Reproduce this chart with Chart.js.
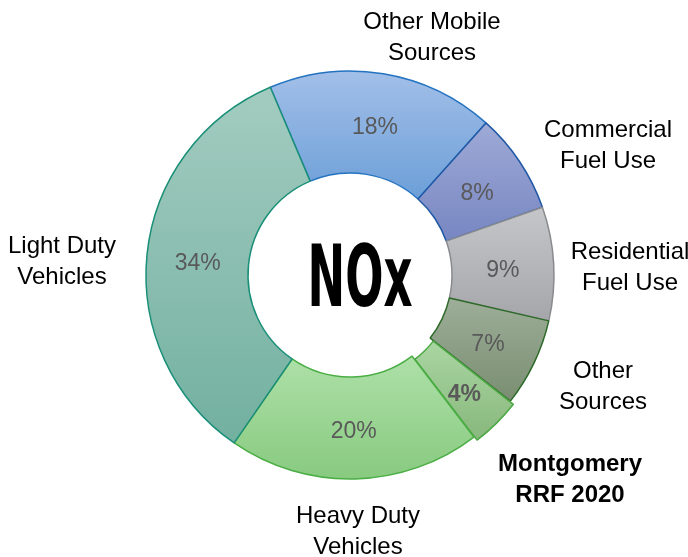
<!DOCTYPE html>
<html><head><meta charset="utf-8">
<script src="https://cdn.jsdelivr.net/npm/chart.js@4/dist/chart.umd.min.js"></script>
<style>html,body{margin:0;padding:0;background:#fff;} #c{display:block;}</style>
</head><body>
<canvas id="c" width="688" height="557" style="width:688px;height:557px"></canvas>
<script>
// ---- data ----
const categories = ['Other Mobile Sources','Commercial Fuel Use','Residential Fuel Use','Other Sources','Montgomery RRF 2020','Heavy Duty Vehicles','Light Duty Vehicles'];
const labelLines = [['Other Mobile','Sources'],['Commercial','Fuel Use'],['Residential','Fuel Use'],['Other','Sources'],['Montgomery','RRF 2020'],['Heavy Duty','Vehicles'],['Light Duty','Vehicles']];
const shares = [18, 8, 9, 7, 4, 20, 34];
const percentLabels = ['18%','8%','9%','7%','4%','20%','34%'];
const highlighted = [false, false, false, false, true, false, false];
const centerTitle = 'NOx';

// ---- styles / layout ----
const topColors    = ['#a2bfe8','#9eaad6','#c5c6c9','#9eae99','#a8d4a0','#aee0a8','#a3ccc0'];
const bottomColors = ['#6c9fd8','#7786c2','#a5a6aa','#798e71','#86b67a','#88ca80','#72b0a0'];
const borderColors = ['#2473c1','#1f58a5','#8a8b8f','#2d6a29','#4ba843','#4aae44','#1a8f78'];
const ROTATION = -23;
const OUTER_R = 204, INNER_R = 102, EXPLODE = 10;
// label centres relative to the chart centre (layout only)
const LABEL_POS = [[82,-237],[258,-129],[280,-7],[253,112],[220,205],[8,257],[-288,-13]];
const FONT = '"Liberation Sans", Arial, sans-serif';

function sliceAngles(i){
  const total = shares.reduce((a,b)=>a+b,0);
  let cum = 0; for (let k=0;k<i;k++) cum += shares[k];
  const base = ROTATION*Math.PI/180 - Math.PI/2;
  return [base + cum/total*2*Math.PI, base + (cum+shares[i])/total*2*Math.PI];
}
function gradientFill(ctx){
  const chart = ctx.chart, i = ctx.dataIndex, area = chart.chartArea;
  if (!area || i === undefined) return topColors[i||0];
  const cy = (area.top+area.bottom)/2;
  const [a0,a1] = sliceAngles(i);
  const off = highlighted[i] ? EXPLODE : 0;
  const mid = (a0+a1)/2;
  const oy = Math.sin(mid)*off;
  let minY = Infinity, maxY = -Infinity;
  for (let s=0;s<=40;s++){
    const a = a0 + (a1-a0)*s/40;
    for (const r of [OUTER_R, INNER_R]){
      const y = cy + oy + Math.sin(a)*r;
      minY = Math.min(minY,y); maxY = Math.max(maxY,y);
    }
  }
  const g = chart.ctx.createLinearGradient(0,minY,0,maxY);
  g.addColorStop(0, topColors[i]);
  g.addColorStop(1, bottomColors[i]);
  return g;
}

const labelPlugin = {
  id:'labels',
  afterDatasetsDraw(chart){
    const ctx = chart.ctx, meta = chart.getDatasetMeta(0), area = chart.chartArea;
    const cx = (area.left+area.right)/2, cy = (area.top+area.bottom)/2;
    ctx.save();
    ctx.textAlign = 'center'; ctx.textBaseline = 'middle';
    meta.data.forEach((arc,i)=>{
      const p = arc.getProps(['x','y','startAngle','endAngle','innerRadius','outerRadius'], true);
      const mid = (p.startAngle+p.endAngle)/2;
      const r = (p.innerRadius+p.outerRadius)/2 + (highlighted[i]?EXPLODE:0);
      ctx.fillStyle = '#595959';
      ctx.font = (highlighted[i]?'bold ':'') + '23px ' + FONT;
      ctx.fillText(percentLabels[i], p.x + Math.cos(mid)*r, p.y + Math.sin(mid)*r + 4);
      ctx.fillStyle = '#000';
      ctx.font = (highlighted[i]?'bold ':'') + '24px ' + FONT;
      const [dx,dy] = LABEL_POS[i];
      const lines = labelLines[i];
      lines.forEach((t,k)=>{
        ctx.fillText(t, cx+dx, cy+dy + (k-(lines.length-1)/2)*31);
      });
    });
    // centre title, condensed
    ctx.fillStyle = '#000';
    ctx.font = 'bold 86px "DejaVu Sans", sans-serif';
    ctx.textBaseline = 'alphabetic';
    const w = ctx.measureText(centerTitle).width;
    const sx = 105 / w;
    ctx.translate(cx+10, cy+31);
    ctx.scale(sx, 1);
    ctx.textAlign = 'center';
    ctx.fillText(centerTitle, 0, 0);
    ctx.restore();
  }
};

new Chart(document.getElementById('c'), {
  type:'doughnut',
  data:{
    labels: categories,
    datasets:[{
      data: shares,
      backgroundColor: gradientFill,
      borderColor: borderColors,
      borderWidth: 1.5,
      offset: highlighted.map(h=>h?EXPLODE:0),
      hoverOffset: 0
    }]
  },
  options:{
    responsive:false, animation:false, events:[],
    devicePixelRatio:1,
    rotation: ROTATION,
    radius: OUTER_R,
    cutout: (INNER_R/OUTER_R*100) + '%',
    layout:{padding:{left:50,right:38,top:25,bottom:32}},
    plugins:{legend:{display:false}, tooltip:{enabled:false}}
  },
  plugins:[labelPlugin]
});
</script>
</body></html>
